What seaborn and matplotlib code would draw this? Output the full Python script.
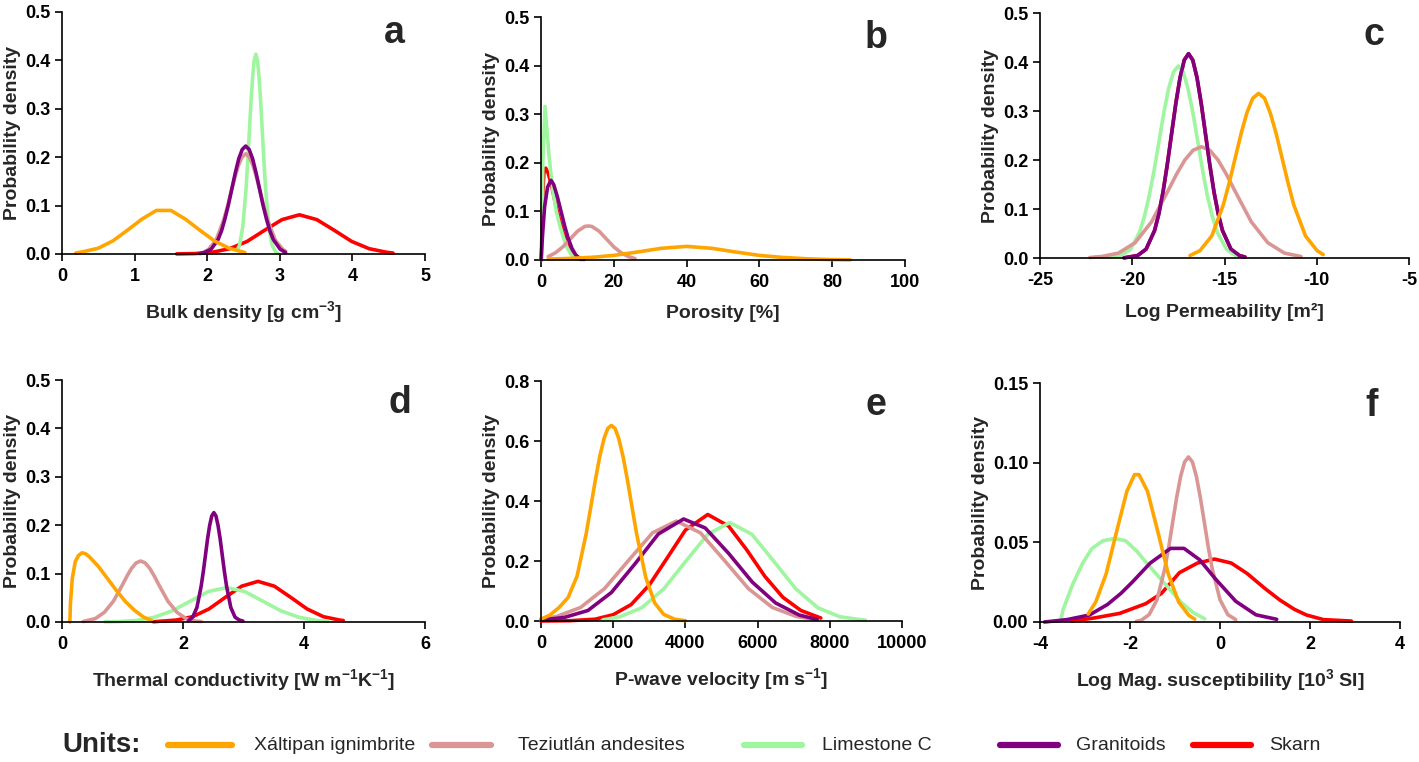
import matplotlib
matplotlib.use("Agg")
import matplotlib.pyplot as plt
from matplotlib.lines import Line2D
import seaborn as sns
import pandas as pd

# Units (legend order) and their colours
UNITS = ["Xáltipan ignimbrite", "Teziutlán andesites", "Limestone C", "Granitoids", "Skarn"]
COLORS = ["#FFA500", "#D99694", "#A0F5A0", "#800080", "#FF0000"]

# Curves: {unit: (x, density)}
BULK_DENSITY = {
    "Xáltipan ignimbrite": ([0.19, 0.3, 0.5, 0.7, 0.9, 1.1, 1.3, 1.5, 1.7, 1.9, 2.1, 2.3, 2.52],
                            [0.002, 0.005, 0.012, 0.027, 0.049, 0.072, 0.09, 0.09, 0.072, 0.049, 0.027, 0.012, 0.003]),
    "Teziutlán andesites": ([1.95, 2.015, 2.12, 2.22, 2.274, 2.325, 2.376, 2.43, 2.479, 2.53, 2.581, 2.63, 2.684,
                             2.735, 2.786, 2.84, 2.94, 3.045, 3.08],
                            [0.004, 0.009, 0.028, 0.067, 0.095, 0.126, 0.156, 0.183, 0.2, 0.207, 0.2, 0.183, 0.156,
                             0.126, 0.095, 0.067, 0.028, 0.009, 0.006]),
    "Limestone C": ([2.41, 2.445, 2.49, 2.535, 2.5575, 2.58, 2.6025, 2.625, 2.6475, 2.67, 2.6925, 2.715, 2.7375,
                     2.76, 2.7825, 2.805, 2.85, 2.895, 2.94, 2.98],
                    [0.007, 0.018, 0.056, 0.134, 0.189, 0.251, 0.312, 0.364, 0.4, 0.413, 0.4, 0.364, 0.312,
                     0.251, 0.189, 0.134, 0.056, 0.018, 0.005, 0.001]),
    "Granitoids": ([1.9, 1.96, 2.055, 2.15, 2.1975, 2.245, 2.2925, 2.34, 2.3875, 2.435, 2.4825, 2.53, 2.5775,
                    2.625, 2.6725, 2.72, 2.7675, 2.815, 2.8625, 2.91, 3.005, 3.08],
                   [0.001, 0.003, 0.01, 0.03, 0.048, 0.073, 0.102, 0.135, 0.168, 0.197, 0.216, 0.223, 0.216,
                    0.197, 0.168, 0.135, 0.102, 0.073, 0.048, 0.03, 0.01, 0.003]),
    "Skarn": ([1.58, 1.83, 2.07, 2.31, 2.55, 2.79, 3.03, 3.27, 3.51, 3.75, 3.99, 4.23, 4.47, 4.56],
              [0.0002, 0.0009, 0.0036, 0.011, 0.026, 0.049, 0.071, 0.081, 0.071, 0.049, 0.026, 0.011, 0.0036, 0.002]),
}

POROSITY = {
    "Xáltipan ignimbrite": ([2, 7, 14, 20, 27, 33, 40, 47, 53, 60, 66, 73, 79, 85],
                            [0.002, 0.003, 0.0055, 0.0095, 0.017, 0.024, 0.028, 0.024, 0.017, 0.0095, 0.0055, 0.0025, 0.001, 0.0003]),
    "Teziutlán andesites": ([2, 4, 6, 8, 10, 12, 13, 14, 16, 18, 20, 22, 24, 25.8],
                            [0.007, 0.015, 0.027, 0.043, 0.059, 0.069, 0.07, 0.069, 0.059, 0.043, 0.027, 0.015, 0.007, 0.003]),
    "Limestone C": ([0.2, 0.5, 1.1, 2.2, 3.2, 4.2, 5.2, 6.2, 7.2, 8.2, 9.3, 10],
                    [0.0, 0.2, 0.316, 0.215, 0.145, 0.1, 0.07, 0.045, 0.025, 0.012, 0.004, 0.001]),
    "Granitoids": ([0.0, 0.5, 1.0, 1.8, 2.75, 3.5, 4.5, 5.5, 6.5, 7.5, 8.5, 9.5, 10.5, 11.8],
                   [0.0, 0.06, 0.11, 0.15, 0.164, 0.155, 0.13, 0.1, 0.07, 0.044, 0.024, 0.011, 0.004, 0.001]),
    "Skarn": ([0.1, 0.4, 0.8, 1.3, 2, 3, 4, 5, 6, 7, 8, 9, 10, 11],
              [0.0, 0.12, 0.18, 0.189, 0.178, 0.15, 0.115, 0.085, 0.058, 0.036, 0.02, 0.01, 0.004, 0.001]),
}

PERMEABILITY = {
    "Xáltipan ignimbrite": ([-16.87, -16.33, -15.69, -15.06, -14.74, -14.42, -14.1, -13.79, -13.47, -13.15, -12.83,
                             -12.52, -12.2, -11.88, -11.56, -11.25, -10.61, -9.98, -9.65],
                            [0.005, 0.015, 0.045, 0.109, 0.154, 0.204, 0.254, 0.296, 0.326, 0.336, 0.326,
                             0.296, 0.254, 0.204, 0.154, 0.109, 0.045, 0.015, 0.007]),
    "Teziutlán andesites": ([-22.3, -21.65, -20.75, -19.85, -18.95, -18.05, -17.6, -17.15, -16.7, -16.25, -15.8,
                             -15.35, -14.9, -14.45, -13.55, -12.65, -11.75, -10.85],
                            [0.001, 0.003, 0.01, 0.031, 0.074, 0.138, 0.171, 0.2, 0.22, 0.227, 0.22,
                             0.2, 0.171, 0.138, 0.074, 0.031, 0.01, 0.003]),
    "Limestone C": ([-22.0, -21.2, -20.65, -20.1, -19.6, -19.34, -19.08, -18.81, -18.55, -18.29, -18.03, -17.76,
                     -17.5, -17.24, -16.98, -16.71, -16.45, -16.19, -15.93, -15.66, -15.4, -14.88, -14.35, -14.2],
                    [0.002, 0.002, 0.005, 0.017, 0.053, 0.085, 0.127, 0.18, 0.238, 0.296, 0.346, 0.38,
                     0.392, 0.38, 0.346, 0.296, 0.238, 0.18, 0.127, 0.085, 0.053, 0.017, 0.004, 0.003]),
    "Granitoids": ([-20.45, -19.71, -19.25, -18.79, -18.56, -18.33, -18.1, -17.87, -17.64, -17.41, -17.18, -16.95,
                    -16.72, -16.49, -16.26, -16.03, -15.8, -15.57, -15.34, -15.11, -14.65, -14.19, -13.89],
                   [0.0003, 0.005, 0.018, 0.056, 0.09, 0.135, 0.191, 0.253, 0.315, 0.368, 0.404, 0.417,
                    0.404, 0.368, 0.315, 0.253, 0.191, 0.135, 0.09, 0.056, 0.018, 0.005, 0.002]),
    "Skarn": ([-20.45, -19.71, -19.25, -18.79, -18.56, -18.33, -18.1, -17.87, -17.64, -17.41, -17.18, -16.95,
               -16.72, -16.49, -16.26, -16.03, -15.8, -15.57, -15.34, -15.11, -14.65, -14.19, -13.89],
              [0.0003, 0.005, 0.018, 0.056, 0.09, 0.135, 0.191, 0.253, 0.315, 0.368, 0.404, 0.417,
               0.404, 0.368, 0.315, 0.253, 0.191, 0.135, 0.09, 0.056, 0.018, 0.005, 0.002]),
}

THERMAL_COND = {
    "Xáltipan ignimbrite": ([0.13, 0.14, 0.17, 0.22, 0.27, 0.33, 0.39, 0.45, 0.6, 0.75, 0.9, 1.05, 1.2, 1.35, 1.48],
                            [0.0, 0.04, 0.09, 0.125, 0.137, 0.143, 0.141, 0.135, 0.115, 0.09, 0.065, 0.042, 0.024, 0.01, 0.003]),
    "Teziutlán andesites": ([0.35, 0.55, 0.7, 0.85, 1.0, 1.075, 1.15, 1.225, 1.3, 1.375, 1.45, 1.525, 1.6, 1.75,
                             1.9, 2.05, 2.2, 2.3],
                            [0.001, 0.007, 0.02, 0.043, 0.077, 0.095, 0.111, 0.122, 0.126, 0.122, 0.111, 0.095, 0.077,
                             0.043, 0.02, 0.007, 0.002, 0.001]),
    "Limestone C": ([0.71, 0.92, 1.22, 1.52, 1.82, 2.12, 2.42, 2.72, 3.02, 3.32, 3.62, 3.92, 4.22, 4.4],
                    [0.0003, 0.0008, 0.003, 0.0096, 0.023, 0.043, 0.063, 0.071, 0.063, 0.043, 0.023, 0.0096, 0.003, 0.0014]),
    "Granitoids": ([2.09, 2.16, 2.23, 2.3, 2.335, 2.37, 2.405, 2.44, 2.475, 2.51, 2.545, 2.58, 2.615, 2.65, 2.685,
                    2.72, 2.79, 2.86, 2.93, 2.99],
                   [0.0025, 0.01, 0.03, 0.074, 0.1035, 0.137, 0.171, 0.199, 0.219, 0.226, 0.219, 0.199, 0.171, 0.137,
                    0.1035, 0.074, 0.03, 0.01, 0.004, 0.002]),
    "Skarn": ([1.51, 1.89, 2.16, 2.43, 2.7, 2.97, 3.24, 3.51, 3.78, 4.05, 4.32, 4.59, 4.65],
              [0.0005, 0.004, 0.011, 0.027, 0.051, 0.074, 0.084, 0.074, 0.051, 0.027, 0.011, 0.004, 0.003]),
}

P_VELOCITY = {
    "Xáltipan ignimbrite": ([0, 250, 500, 750, 1000, 1250, 1375, 1500, 1625, 1750, 1850, 1950, 2050, 2150, 2275,
                             2400, 2525, 2650, 2900, 3150, 3400, 3700, 4000],
                            [0.006, 0.02, 0.045, 0.078, 0.15, 0.29, 0.377, 0.466, 0.547, 0.61, 0.642, 0.652, 0.642,
                             0.61, 0.547, 0.466, 0.377, 0.29, 0.146, 0.06, 0.022, 0.006, 0.001]),
    "Teziutlán andesites": ([0, 430, 1095, 1760, 2425, 3090, 3750, 4415, 5080, 5745, 6410, 7075, 7550],
                            [0.006, 0.015, 0.045, 0.108, 0.202, 0.294, 0.333, 0.294, 0.202, 0.108, 0.045, 0.015, 0.006]),
    "Limestone C": ([1720, 2180, 2790, 3400, 4010, 4620, 5230, 5840, 6450, 7060, 7670, 8280, 8890, 8985],
                    [0.004, 0.014, 0.044, 0.107, 0.199, 0.289, 0.328, 0.289, 0.199, 0.107, 0.044, 0.014, 0.004, 0.003]),
    "Granitoids": ([0, 650, 1300, 1950, 2600, 3250, 3950, 4550, 5200, 5850, 6500, 7150, 7650],
                   [0.003, 0.012, 0.035, 0.095, 0.19, 0.29, 0.34, 0.31, 0.225, 0.13, 0.06, 0.02, 0.005]),
    "Skarn": ([0, 800, 1500, 2000, 2500, 3000, 3500, 4000, 4620, 5200, 5700, 6200, 6700, 7200, 7750],
              [0.0, 0.001, 0.006, 0.021, 0.055, 0.12, 0.211, 0.303, 0.355, 0.316, 0.237, 0.149, 0.079, 0.035, 0.01]),
}

MAG_SUSC = {
    "Xáltipan ignimbrite": ([-2.93, -2.76, -2.53, -2.3, -2.07, -1.9, -1.8, -1.61, -1.38, -1.15, -0.92, -0.69, -0.56],
                            [0.005, 0.0126, 0.0302, 0.0565, 0.082, 0.0925, 0.0925, 0.082, 0.0565, 0.0302, 0.0126, 0.0041, 0.0018]),
    "Teziutlán andesites": ([-1.86, -1.75, -1.575, -1.4, -1.225, -1.1375, -1.05, -0.9625, -0.875, -0.7875, -0.7,
                             -0.6125, -0.525, -0.4375, -0.35, -0.2625, -0.175, 0.0, 0.175, 0.35],
                            [0.0004, 0.0011, 0.0046, 0.014, 0.0337, 0.0474, 0.0629, 0.0782, 0.0914, 0.1004, 0.1036,
                             0.1004, 0.0914, 0.0782, 0.0629, 0.0474, 0.0337, 0.014, 0.0046, 0.0015]),
    "Limestone C": ([-3.53, -3.49, -3.27, -3.05, -2.85, -2.6, -2.34, -2.1, -1.85, -1.6, -1.35, -1.1, -0.85, -0.6, -0.34],
                    [0.002, 0.0075, 0.024, 0.037, 0.046, 0.051, 0.0524, 0.051, 0.0445, 0.036, 0.028, 0.02, 0.012, 0.006, 0.002]),
    "Granitoids": ([-3.9, -3.4, -2.9, -2.5, -2.2, -1.95, -1.55, -1.1, -0.8, -0.45, -0.1, 0.35, 0.8, 1.26],
                   [0.0, 0.0015, 0.0044, 0.011, 0.018, 0.025, 0.037, 0.0462, 0.0462, 0.039, 0.027, 0.013, 0.0045, 0.0017]),
    "Skarn": ([-3.3, -2.8, -2.23, -1.65, -1.3, -0.9, -0.5, -0.12, 0.25, 0.6, 1.0, 1.33, 1.65, 1.92, 2.3, 2.92],
              [0.0006, 0.0025, 0.0054, 0.0115, 0.018, 0.031, 0.037, 0.0395, 0.037, 0.0305, 0.021, 0.0138, 0.008, 0.0044, 0.0015, 0.0006]),
}

# panel letter, data, x label, x ticks, y ticks, y tick format
PANELS = [
    ("a", BULK_DENSITY, "Bulk density [g cm$^{-3}$]", [0, 1, 2, 3, 4, 5], [0, 0.1, 0.2, 0.3, 0.4, 0.5], "{:.1f}"),
    ("b", POROSITY, "Porosity [%]", [0, 20, 40, 60, 80, 100], [0, 0.1, 0.2, 0.3, 0.4, 0.5], "{:.1f}"),
    ("c", PERMEABILITY, "Log Permeability [m²]", [-25, -20, -15, -10, -5], [0, 0.1, 0.2, 0.3, 0.4, 0.5], "{:.1f}"),
    ("d", THERMAL_COND, "Thermal conductivity [W m$^{-1}$K$^{-1}$]", [0, 2, 4, 6], [0, 0.1, 0.2, 0.3, 0.4, 0.5], "{:.1f}"),
    ("e", P_VELOCITY, "P-wave velocity [m s$^{-1}$]", [0, 2000, 4000, 6000, 8000, 10000], [0, 0.2, 0.4, 0.6, 0.8], "{:.1f}"),
    ("f", MAG_SUSC, "Log Mag. susceptibility [10$^{3}$ SI]", [-4, -2, 0, 2, 4], [0, 0.05, 0.10, 0.15], "{:.2f}"),
]

# axes boxes in pixels: left, top, right, bottom
BOXES = [(62, 12, 425, 254), (541, 17, 905, 260), (1040, 13, 1409, 258),
         (62, 380, 425, 622), (541, 381, 902, 621), (1040, 383, 1400, 622)]
LETTER_POS = [(0.915, 0.915), (0.92, 0.915), (0.905, 0.91), (0.93, 0.905), (0.928, 0.9), (0.92, 0.905)]

# legend row: line start/end and text start, in pixels
LEG_LINES = [(168, 232), (432, 491), (744, 802), (1000, 1058), (1193, 1251)]
LEG_TEXT_X = [254, 518, 822, 1076, 1269]
LEG_Y = 745

# drawing order (last on top)
DRAW_ORDER = ["Skarn", "Limestone C", "Teziutlán andesites", "Granitoids", "Xáltipan ignimbrite"]

sns.set_style("ticks")
plt.rcParams["font.family"] = ["Liberation Sans", "DejaVu Sans"]
plt.rcParams["font.weight"] = "bold"
plt.rcParams["axes.labelweight"] = "bold"
plt.rcParams["axes.unicode_minus"] = False
plt.rcParams["mathtext.fontset"] = "custom"
plt.rcParams["mathtext.rm"] = "Liberation Sans:bold"
plt.rcParams["mathtext.bf"] = "Liberation Sans:bold"
plt.rcParams["mathtext.default"] = "rm"

W, H = 1419, 762
fig = plt.figure(figsize=(W / 100, H / 100), dpi=100)
color_of = dict(zip(UNITS, COLORS))

for (letter, data, xlabel, xticks, yticks, yfmt), box, lpos in zip(PANELS, BOXES, LETTER_POS):
    l, t, r, b = box
    ax = fig.add_axes([l / W, 1 - b / H, (r - l) / W, (b - t) / H])
    for unit in DRAW_ORDER:
        xs, ys = data[unit]
        df = pd.DataFrame({"x": xs, "y": ys})
        sns.lineplot(data=df, x="x", y="y", ax=ax, color=color_of[unit], lw=2.6,
                     sort=False, estimator=None, clip_on=False)
    ax.set_xlim(xticks[0], xticks[-1])
    ax.set_ylim(yticks[0], yticks[-1])
    ax.set_xticks(xticks)
    ax.set_yticks(yticks)
    ax.set_yticklabels([yfmt.format(v) for v in yticks])
    ax.tick_params(axis="both", labelsize=13, length=5, width=1.2, direction="out", colors="black")
    ax.tick_params(axis="x", pad=5)
    for s in ["left", "bottom"]:
        ax.spines[s].set_linewidth(1.2)
        ax.spines[s].set_color("black")
    sns.despine(ax=ax)
    ax.set_xlabel(xlabel, fontsize=14, labelpad=10)
    ax.set_ylabel("Probability density", fontsize=14, labelpad=3)
    ax.text(lpos[0], lpos[1], letter, transform=ax.transAxes, ha="center", va="center",
            fontsize=27, fontweight="bold")

# legend row at the bottom
ly = 1 - LEG_Y / H
fig.text(62 / W, ly, "Units:", fontsize=20, fontweight="bold", ha="left", va="center")
for unit, color, (x0, x1), tx in zip(UNITS, COLORS, LEG_LINES, LEG_TEXT_X):
    fig.add_artist(Line2D([x0 / W, x1 / W], [ly, ly], color=color, lw=4.5, transform=fig.transFigure))
    fig.text(tx / W, ly, unit, fontsize=14, fontweight="normal", ha="left", va="center")

fig.savefig("out.png", dpi=100)
